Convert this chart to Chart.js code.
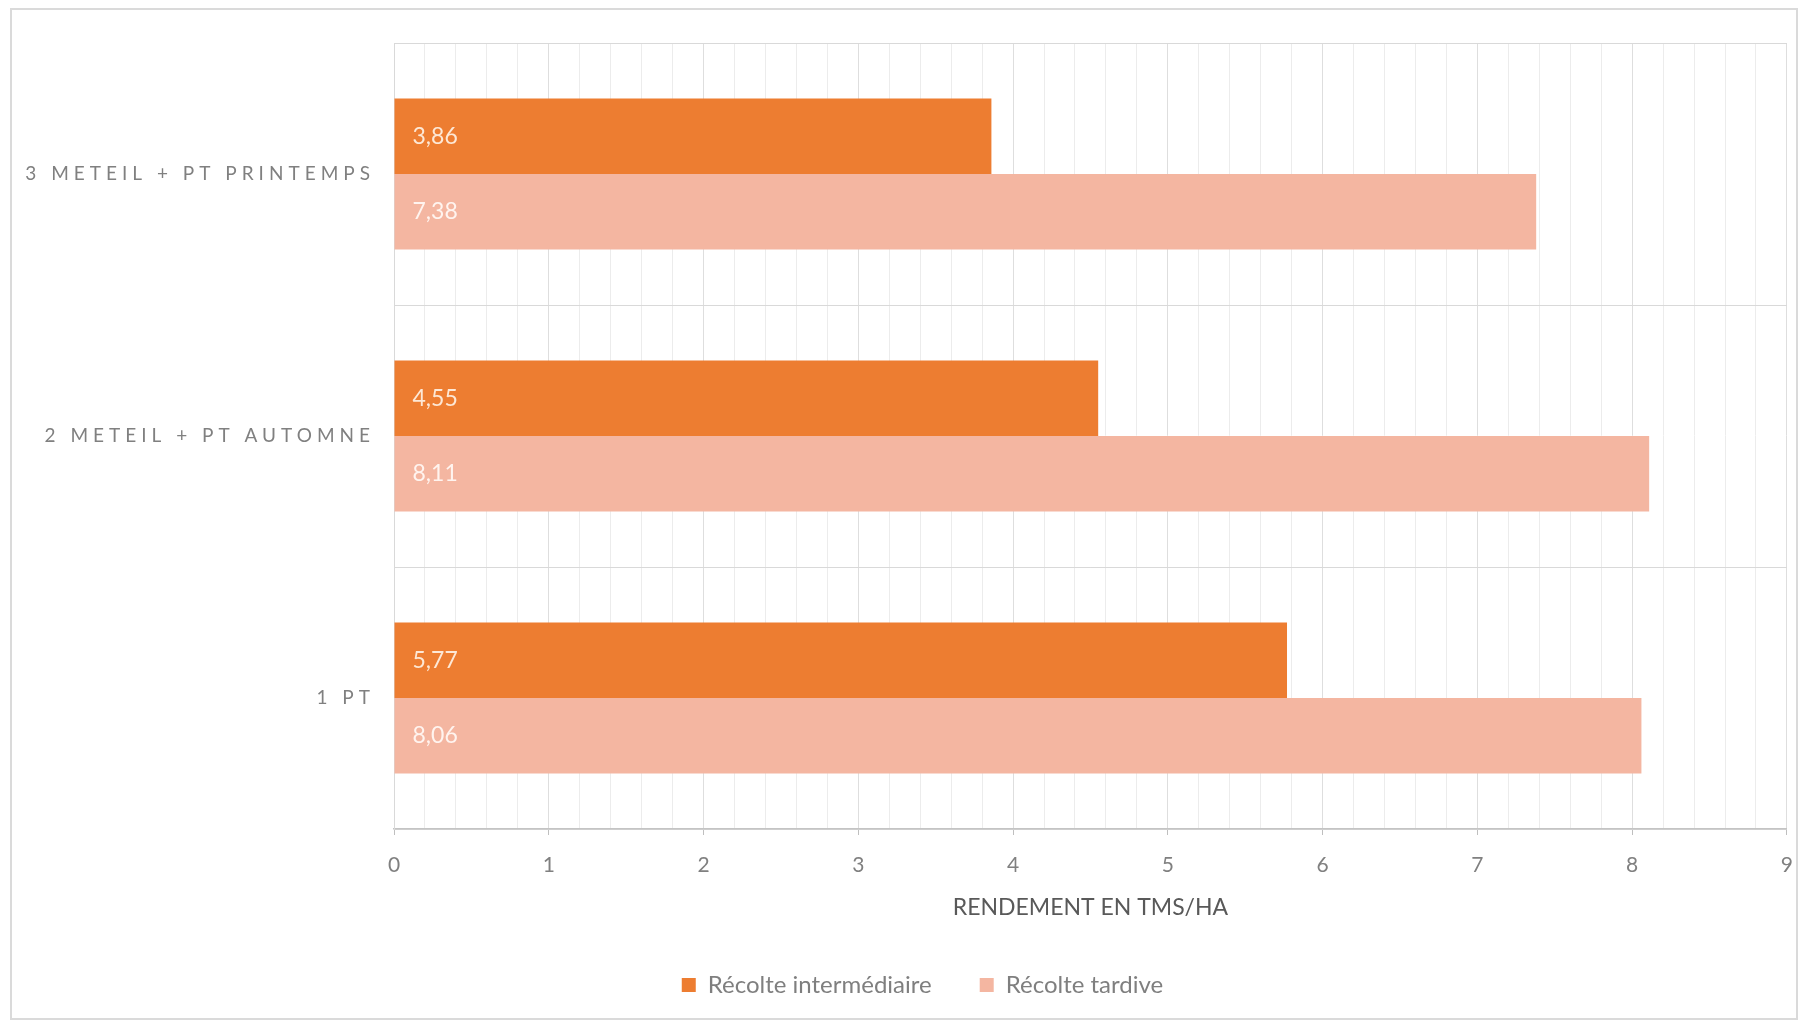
<!DOCTYPE html>
<html lang="fr">
<head>
<meta charset="utf-8">
<title>Rendement en TMS/HA</title>
<script src="https://cdn.jsdelivr.net/npm/chart.js@4/dist/chart.umd.min.js"></script>
<style>
  html, body { margin: 0; padding: 0; background: #fff; overflow: hidden; }
  #frame { position: absolute; left: 10px; top: 8px; width: 1784px; height: 1008px; border: 2px solid #dadada; }
  #wrap { position: absolute; left: 14px; top: 11px; width: 1799px; height: 996px; }
</style>
</head>
<body>
<div id="frame"></div>
<div id="wrap"><canvas id="chart" width="1799" height="996"></canvas></div>
<script>
/* ---------- data ---------- */
const categories = ["3 METEIL + PT PRINTEMPS", "2 METEIL + PT AUTOMNE", "1 PT"];
const seriesNames = ["Récolte intermédiaire", "Récolte tardive"];
const recolteIntermediaire = [3.86, 4.55, 5.77];
const recolteTardive = [7.38, 8.11, 8.06];
const xMin = 0, xMax = 9, gridStep = 0.2;

const colors = ["#ED7D31", "#F4B6A1"];
const labelColors = ["#FDE8D6", "#FFF4EF"];

const isInt = v => Math.abs(v - Math.round(v)) < 1e-6;

/* values written inside the bars, French decimal comma */
const barLabels = {
  id: "barLabels",
  afterDatasetsDraw(chart) {
    const ctx = chart.ctx;
    ctx.save();
    ctx.font = "23px Lato";
    ctx.textAlign = "left";
    ctx.textBaseline = "middle";
    chart.data.datasets.forEach((ds, i) => {
      chart.getDatasetMeta(i).data.forEach((bar, j) => {
        ctx.fillStyle = labelColors[i];
        ctx.fillText(ds.data[j].toFixed(2).replace(".", ","), bar.base + 18, bar.y);
      });
    });
    ctx.restore();
  }
};

/* spaced capitals on the category axis */
const spacedYLabels = {
  id: "spacedYLabels",
  beforeDraw(chart) {
    const y = chart.scales.y;
    if (y._spaced) return;
    const orig = y.drawLabels;
    y.drawLabels = function (area) {
      this.ctx.save();
      this.ctx.letterSpacing = "5px";
      orig.call(this, area);
      this.ctx.restore();
    };
    y._spaced = true;
  }
};

/* legend sits a bit right of the canvas centre */
const legendShift = {
  id: "legendShift",
  afterLayout(chart) {
    chart.legend.left += 13;
    chart.legend.right += 13;
  }
};

new Chart(document.getElementById("chart"), {
  type: "bar",
  data: {
    labels: categories,
    datasets: [
      { label: seriesNames[0], data: recolteIntermediaire, backgroundColor: colors[0] },
      { label: seriesNames[1], data: recolteTardive, backgroundColor: colors[1] }
    ]
  },
  options: {
    indexAxis: "y",
    responsive: false,
    animation: false,
    categoryPercentage: 0.577,
    barPercentage: 1,
    layout: { padding: { left: 0, right: 8, top: 32, bottom: 0 } },
    scales: {
      x: {
        min: xMin,
        max: xMax,
        ticks: {
          stepSize: gridStep,
          maxTicksLimit: 100,
          autoSkip: false,
          maxRotation: 0,
          padding: 20,
          color: "#808080",
          font: { family: "Lato", size: 21, lineHeight: 1 },
          callback: v => (isInt(v) ? Math.round(v) : "")
        },
        grid: {
          color: ctx => (isInt(ctx.tick.value) ? "#dedede" : "#ececec"),
          tickColor: ctx => (isInt(ctx.tick.value) ? "#bfbfbf" : "rgba(0,0,0,0)"),
          tickLength: 6
        },
        border: { color: "#c4c4c4", width: 1.5 },
        title: {
          display: true,
          text: "RENDEMENT EN TMS/HA",
          color: "#595959",
          font: { family: "Lato", size: 23, lineHeight: 1 },
          padding: { top: 0, bottom: 6 }
        }
      },
      y: {
        afterFit: scale => { scale.width = 380; },
        ticks: {
          padding: 19,
          color: "#808080",
          font: { family: "Lato", size: 19 }
        },
        grid: { color: "#d9d9d9", drawTicks: false },
        border: { color: "#d9d9d9" }
      }
    },
    plugins: {
      legend: {
        position: "bottom",
        labels: {
          boxWidth: 14,
          boxHeight: 14,
          padding: 48,
          color: "#7f7f7f",
          font: { family: "Lato", size: 24 }
        }
      },
      tooltip: { enabled: false }
    }
  },
  plugins: [barLabels, spacedYLabels, legendShift]
});
</script>
</body>
</html>
